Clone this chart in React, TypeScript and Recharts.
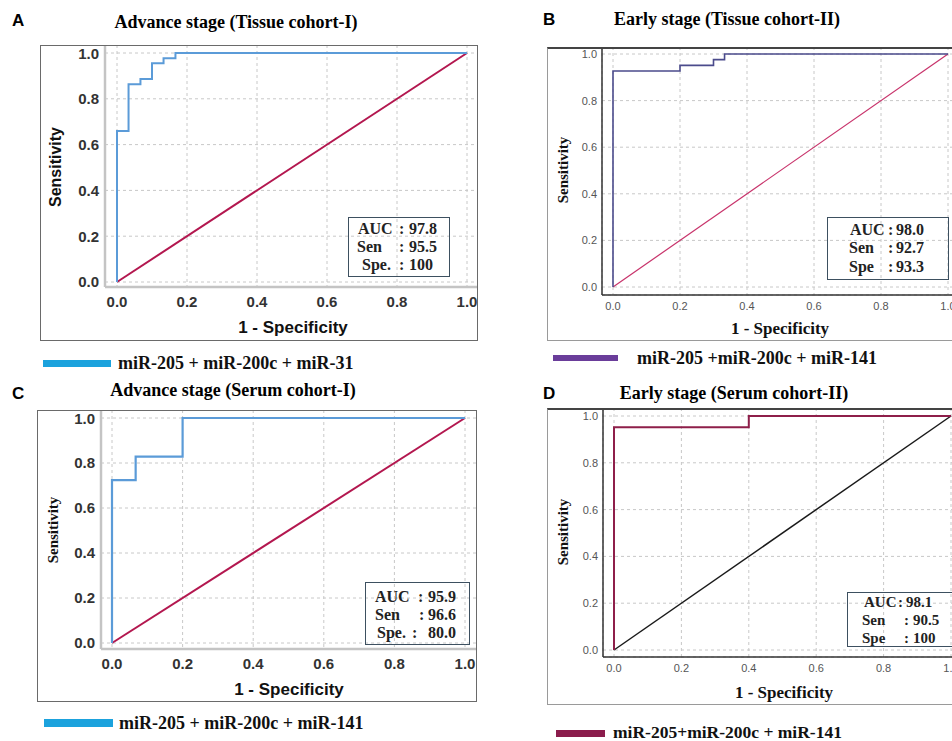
import React from 'react';
import { LineChart, Line, XAxis, YAxis, CartesianGrid, Label } from 'recharts';

const axisTicks = [0, 0.2, 0.4, 0.6, 0.8, 1.0];

// ROC corner points (1 - specificity, sensitivity)
const fprA = [0, 0, 0.033, 0.067, 0.1, 0.133, 0.167, 1];
const tprA = [0, 0.659, 0.864, 0.886, 0.955, 0.977, 1, 1];

const fprB = [0, 0, 0.2, 0.3, 0.333, 1];
const tprB = [0, 0.927, 0.951, 0.976, 1, 1];

const fprC = [0, 0, 0.067, 0.2, 1];
const tprC = [0, 0.724, 0.828, 1, 1];

const fprD = [0, 0, 0.4, 1];
const tprD = [0, 0.952, 1, 1];

// reference (chance) line
const refX = [0, 1];
const refY = [0, 1];

const letters = ['A', 'B', 'C', 'D'];
const titles = [
  'Advance stage (Tissue cohort-I)',
  'Early stage (Tissue cohort-II)',
  'Advance stage (Serum cohort-I)',
  'Early stage (Serum cohort-II)',
];
const legendLabels = [
  'miR-205 + miR-200c + miR-31',
  'miR-205 +miR-200c + miR-141',
  'miR-205 + miR-200c + miR-141',
  'miR-205+miR-200c + miR-141',
];
const statNames = [
  ['AUC', 'Sen', 'Spe.'],
  ['AUC', 'Sen', 'Spe'],
  ['AUC', 'Sen', 'Spe.'],
  ['AUC', 'Sen', 'Spe'],
];
const statValues = [
  ['97.8', '95.5', '100'],
  ['98.0', '92.7', '93.3'],
  ['95.9', '96.6', '80.0'],
  ['98.1', '90.5', '100'],
];

const toPoints = (xs: number[], ys: number[]) => xs.map((x, i) => ({ x, y: ys[i] }));
const rocSets = [toPoints(fprA, tprA), toPoints(fprB, tprB), toPoints(fprC, tprC), toPoints(fprD, tprD)];
const refLine = toPoints(refX, refY);

const SERIF = '"Liberation Serif", "Times New Roman", serif';
const SANS = '"Liberation Sans", Arial, sans-serif';

// frame/plot rects in page px: [left, top, right, bottom]
// stat rows: [y, labelX, colonX, valueX]
const layouts = [
  {
    frame: [40, 45, 478, 341], plot: [105, 45, 478, 287], pad: { l: 12, r: 11, t: 8, b: 5 },
    heavy: true, roc: '#5b9bd8', ref: '#b3174f', rocW: 2, refW: 2,
    letter: [12, 20], title: [236, 22], yTitle: [55, 167], xTitle: [293, 327],
    legendBar: [43, 111, 363, 7], legendText: 118, legendColor: '#1ba2dd', legendSize: 18,
    box: [348, 217, 102, 60], statSize: 16,
    statRows: [[228.5, 358, 399, 409], [246.7, 357, 399, 409], [265, 362, 399, 409]],
  },
  {
    frame: [547, 47, 962, 341], plot: [602, 47, 962, 295], pad: { l: 11, r: 14, t: 7, b: 8 },
    heavy: false, roc: '#4b4b8c', ref: '#c8336b', rocW: 1.6, refW: 1.2,
    letter: [543, 19], title: [727, 19], yTitle: [563, 170], xTitle: [780, 328],
    legendBar: [553, 618, 358, 6], legendText: 637, legendColor: '#6a3d9a', legendSize: 18,
    box: [827, 217, 122, 63], statSize: 16,
    statRows: [[230, 850, 888, 896], [248.3, 849, 888, 896], [266.7, 849, 888, 896]],
  },
  {
    frame: [37, 410, 477, 702], plot: [101, 410, 477, 649], pad: { l: 11, r: 12, t: 8, b: 6 },
    heavy: true, roc: '#5b9bd8', ref: '#b3174f', rocW: 2.2, refW: 2,
    letter: [12, 393], title: [233, 390], yTitle: [53, 530], xTitle: [289, 689],
    legendBar: [44, 113, 723, 8], legendText: 119, legendColor: '#1ba2dd', legendSize: 18,
    box: [365, 582, 105, 63], statSize: 16,
    statRows: [[596.7, 375, 418, 428], [615, 375, 419, 428], [633.3, 377, 412, 428]],
  },
  {
    frame: [547, 408, 962, 705], plot: [603, 408, 962, 657], pad: { l: 11, r: 11, t: 8, b: 7 },
    heavy: false, roc: '#8e1f4a', ref: '#1a1a1a', rocW: 2, refW: 1.5,
    letter: [543, 393], title: [734, 393], yTitle: [563, 532], xTitle: [784, 692],
    legendBar: [556, 605, 733, 7], legendText: 613, legendColor: '#8b1c4c', legendSize: 17.5,
    box: [847, 592, 115, 55], statSize: 15,
    statRows: [[601.7, 864, 898, 906], [620, 862, 904, 913], [638.3, 862, 904, 913]],
  },
];

const centered: React.CSSProperties = {
  position: 'absolute',
  transform: 'translate(-50%, -50%)',
  whiteSpace: 'nowrap',
  lineHeight: 1,
};

const leftMid: React.CSSProperties = {
  position: 'absolute',
  transform: 'translate(0, -50%)',
  whiteSpace: 'nowrap',
  lineHeight: 1,
};

function RocPanel({ idx }: { idx: number }) {
  const L = layouts[idx];
  const [fl, ft, fr, fb] = L.frame;
  const [pl, pt, pr, pb] = L.plot;
  const w = fr - fl;
  const h = fb - ft;

  const tickStyle = L.heavy
    ? { fontFamily: SANS, fontWeight: 700, fontSize: 15, fill: '#333' }
    : { fontFamily: SANS, fontSize: 11, fill: '#555' };
  const axisLine = L.heavy
    ? { stroke: '#c4c4c4', strokeWidth: 2.5 }
    : { stroke: '#333', strokeWidth: 1.5 };
  const yTitleFont = idx === 0 ? { fontFamily: SANS, fontWeight: 700, fontSize: 16 } : { fontFamily: SERIF, fontWeight: 700, fontSize: 15 };
  const xTitleFont = L.heavy ? { fontFamily: SANS, fontWeight: 700, fontSize: 17 } : { fontFamily: SERIF, fontWeight: 700, fontSize: 17 };

  const [bx, by, bw, bh] = L.box;

  return (
    <>
      <div style={{ ...leftMid, left: L.letter[0], top: L.letter[1], fontFamily: SANS, fontWeight: 700, fontSize: 17 }}>
        {letters[idx]}
      </div>
      <div style={{ ...centered, left: L.title[0], top: L.title[1], fontFamily: SERIF, fontWeight: 700, fontSize: 18 }}>
        {titles[idx]}
      </div>

      <div style={{ position: 'absolute', left: fl, top: ft }}>
        <LineChart width={w} height={h} margin={{ top: pt - ft, right: fr - pr, left: 0, bottom: 0 }}>
          <CartesianGrid stroke="#c8c8c8" strokeDasharray="3 3" />
          <XAxis
            type="number"
            dataKey="x"
            domain={[0, 1]}
            ticks={axisTicks}
            padding={{ left: L.pad.l, right: L.pad.r }}
            height={fb - pb}
            tickFormatter={(v: number) => v.toFixed(1)}
            tick={tickStyle}
            tickLine={false}
            tickSize={0}
            tickMargin={L.heavy ? 9 : 7}
            axisLine={axisLine}
          >
            <Label
              content={() => (
                <text x={L.xTitle[0] - fl} y={L.xTitle[1] - ft} textAnchor="middle" dominantBaseline="central" fill="#111" {...xTitleFont}>
                  1 - Specificity
                </text>
              )}
            />
          </XAxis>
          <YAxis
            type="number"
            domain={[0, 1]}
            ticks={axisTicks}
            padding={{ top: L.pad.t, bottom: L.pad.b }}
            width={pl - fl}
            tickFormatter={(v: number) => v.toFixed(1)}
            tick={tickStyle}
            tickLine={false}
            tickSize={0}
            tickMargin={L.heavy ? 6 : 5}
            axisLine={axisLine}
          >
            <Label
              content={() => {
                const cx = L.yTitle[0] - fl;
                const cy = L.yTitle[1] - ft;
                return (
                  <text x={cx} y={cy} transform={`rotate(-90, ${cx}, ${cy})`} textAnchor="middle" dominantBaseline="central" fill="#111" {...yTitleFont}>
                    Sensitivity
                  </text>
                );
              }}
            />
          </YAxis>
          <Line data={refLine} dataKey="y" type="linear" stroke={L.ref} strokeWidth={L.refW} dot={false} activeDot={false} isAnimationActive={false} />
          <Line data={rocSets[idx]} dataKey="y" type="stepAfter" stroke={L.roc} strokeWidth={L.rocW} dot={false} activeDot={false} isAnimationActive={false} />
        </LineChart>
      </div>

      {/* frame */}
      <div
        style={{
          position: 'absolute',
          left: fl,
          top: ft,
          width: w,
          height: h,
          boxSizing: 'border-box',
          border: L.heavy ? '1.5px solid #6a6a6a' : '1.5px solid #9a9a9a',
          borderTop: L.heavy ? '1.5px solid #6a6a6a' : '2px solid #444',
          pointerEvents: 'none',
        }}
      />

      {/* stats box */}
      <div
        style={{
          position: 'absolute',
          left: bx,
          top: by,
          width: bw,
          height: bh,
          boxSizing: 'border-box',
          border: '1.5px solid #3d5060',
        }}
      />
      {statNames[idx].map((name, r) => {
        const [ry, lx, cx, vx] = L.statRows[r];
        const font = { fontFamily: SERIF, fontWeight: 700, fontSize: L.statSize, color: '#222' };
        return (
          <React.Fragment key={name}>
            <div style={{ ...leftMid, ...font, left: lx, top: ry }}>{name}</div>
            <div style={{ ...leftMid, ...font, left: cx, top: ry }}>:</div>
            <div style={{ ...leftMid, ...font, left: vx, top: ry }}>{statValues[idx][r]}</div>
          </React.Fragment>
        );
      })}

      {/* legend */}
      <div
        style={{
          position: 'absolute',
          left: L.legendBar[0],
          top: L.legendBar[2] - L.legendBar[3] / 2,
          width: L.legendBar[1] - L.legendBar[0],
          height: L.legendBar[3],
          background: L.legendColor,
        }}
      />
      <div style={{ ...leftMid, left: L.legendText, top: L.legendBar[2] - 0.5, fontFamily: SERIF, fontWeight: 700, fontSize: L.legendSize, color: '#111' }}>
        {legendLabels[idx]}
      </div>
    </>
  );
}

export default function App() {
  return (
    <div style={{ position: 'absolute', left: 0, top: 0, width: 952, height: 741, overflow: 'hidden', background: '#fff' }}>
      {[0, 1, 2, 3].map((i) => (
        <RocPanel key={i} idx={i} />
      ))}
    </div>
  );
}
